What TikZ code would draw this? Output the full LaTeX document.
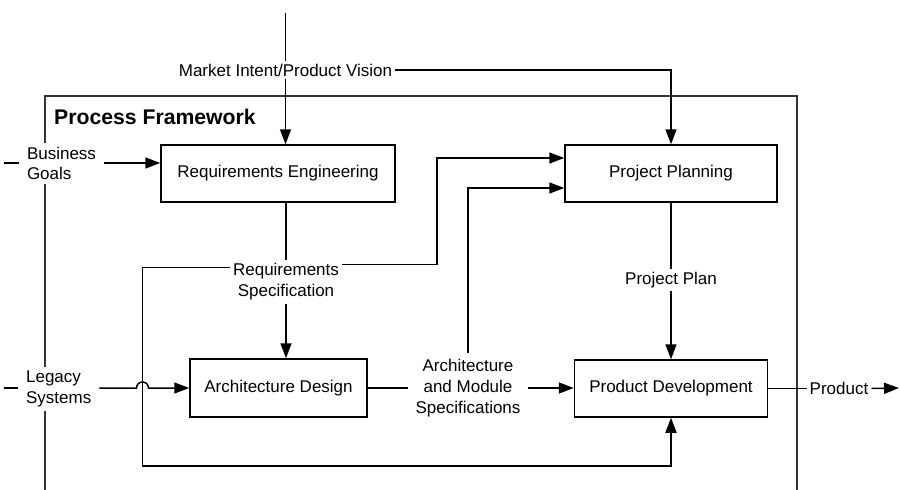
\documentclass[tikz,border=0pt]{standalone}
\usepackage{fontspec}
\setmainfont{Liberation Sans}
\usetikzlibrary{arrows.meta,calc}
\newcommand\myfs{\fontsize{17}{20.8}\selectfont}
\begin{document}
\begin{tikzpicture}[x=1pt,y=-1pt,
  box/.style={draw, line width=1.5pt, minimum height=57pt, inner sep=0pt, font=\myfs},
  lbl/.style={align=center, font=\myfs, inner xsep=3pt, inner ysep=3pt},
  side/.style={lbl, align=left, inner xsep=8pt, inner ysep=4pt, fill=white},
  conn/.style={line width=1.5pt},
  arr/.style={conn, -{Triangle[length=15pt,width=11pt]}},
  frame/.style={line width=1.6pt, draw=black!80}
  ]
\useasboundingbox (0,0) rectangle (900,490);
% frame
\draw[frame] (45,492) -- (45,96) -- (797,96) -- (797,492);
\node[font=\bfseries\fontsize{21.2}{25}\selectfont, anchor=base west, inner sep=0pt] (title) at (54,124) {Process Framework};
% boxes
\node[box, minimum width=234pt] (re) at (278,173.5) {Requirements Engineering};
\node[box, minimum width=212pt] (pp) at (671,173.5) {Project Planning};
\node[box, minimum width=177pt, minimum height=58pt] (ad) at (278.5,388) {Architecture Design};
\node[box, minimum width=193pt] (pd) at (671,388.5) {Product Development};
% labels
\node[lbl] (mkt) at (285.5,70) {Market Intent/Product Vision};
\node[side] (bg) at (61.5,163.5) {Business\\Goals};
\node[side] (ls) at (58.7,389) {Legacy\\Systems};
\node[lbl] (rs) at (286,282) {Requirements\\Specification};
\node[lbl, inner xsep=7pt, inner ysep=6pt] (ams) at (468,388) {Architecture\\and Module\\Specifications};
\node[lbl] (pplan) at (671,280) {Project Plan};
\node[lbl] (prod) at (839,388) {Product};
% coordinates
\coordinate (mtop) at (285.5,13);
\coordinate (bgin) at (4,163);
\coordinate (lsin) at (4,388);
\coordinate (fb) at (142.5,466);
\coordinate (c1) at (437,158);
\coordinate (c2) at (468,188);
\coordinate (pout) at (899,388);
% market intent
\draw[conn] (mtop) -- (mkt.north);
\draw[arr] (mkt.south) -- (mkt.south |- re.north);
\draw[arr] (mkt.east) -| (pp.north);
% business goals
\draw[conn] (bgin) -- (bgin -| bg.west);
\draw[arr] (bgin -| bg.east) -- (bgin -| re.west);
% legacy systems with line hop
\draw[conn] (lsin) -- (lsin -| ls.west);
\draw[arr] (lsin -| ls.east) -- ($(fb |- lsin)+(-6,0)$) arc[start angle=180, end angle=0, radius=6pt] -- (lsin -| ad.west);
% requirements specification
\draw[conn] (rs.north |- re.south) -- (rs.north);
\draw[arr] (rs.south) -- (rs.south |- ad.north);
\draw[arr] ([yshift=-7pt]rs.north west) -| (fb) -| (pd.south);
\draw[arr] ([yshift=-4pt]rs.north east) -| (c1) -- (c1 -| pp.west);
% architecture and module specs
\draw[conn] (ad.east) -- (ad.east -| ams.west);
\draw[arr] (ad.east -| ams.east) -- (ad.east -| pd.west);
\draw[arr] (ams.north) |- (c2 -| pp.west);
% project plan
\draw[conn] (pp.south) -- (pplan.north);
\draw[arr] (pplan.south) -- (pd.north);
% product
\draw[conn] (pd.east) -- (pd.east -| prod.west);
\draw[arr] (pd.east -| prod.east) -- (pout);
\end{tikzpicture}
\end{document}
